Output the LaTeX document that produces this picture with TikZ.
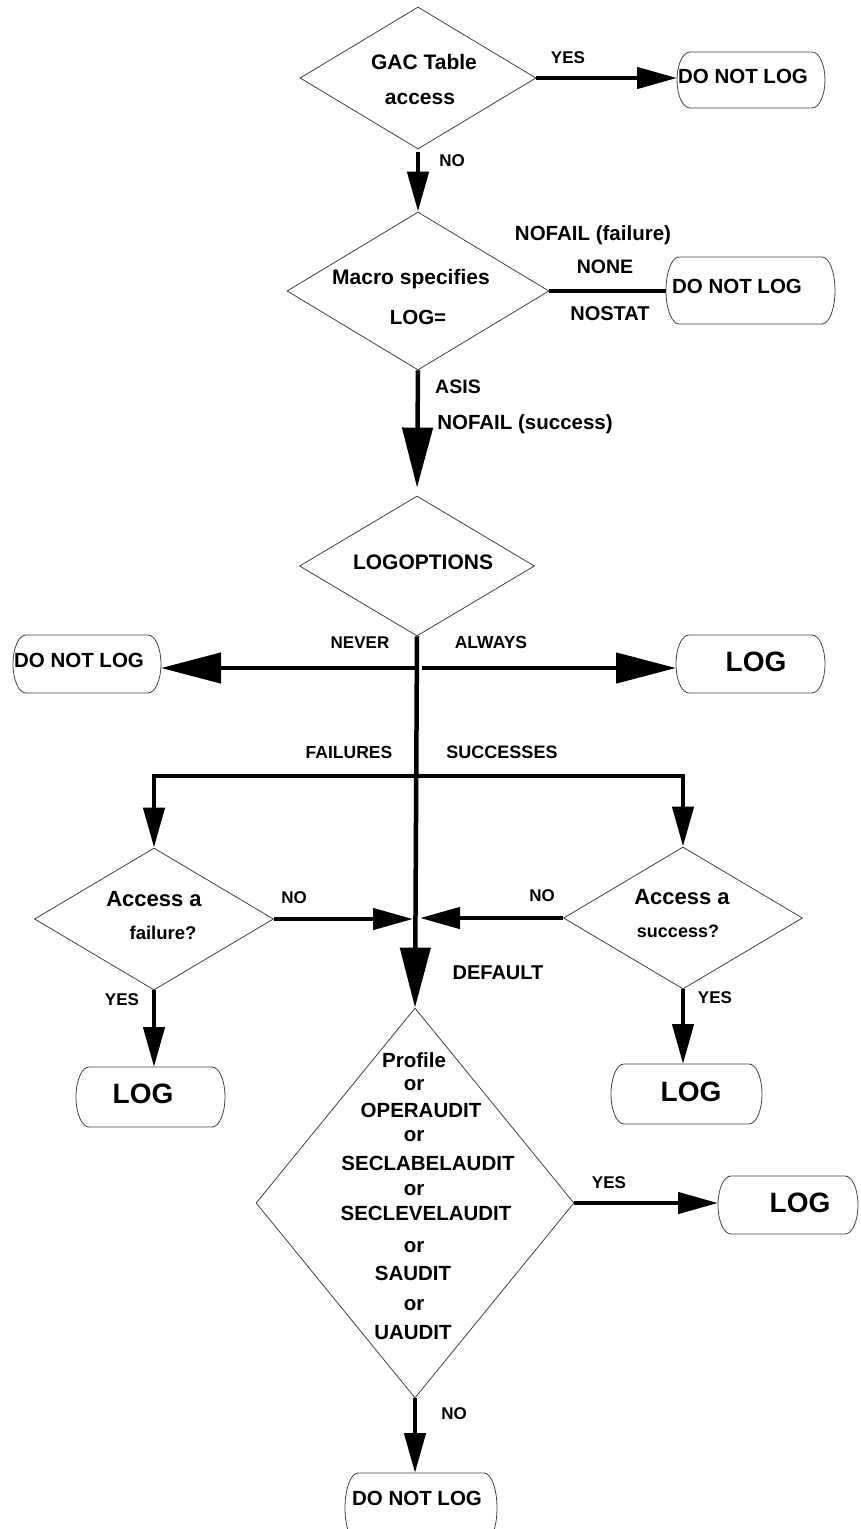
\documentclass[tikz,border=0pt]{standalone}
\usepackage{fontspec}
\setmainfont{Liberation Sans}
\usetikzlibrary{shapes.geometric,arrows.meta}
% terminal box: name, x, y, width, height; straight top and bottom, elliptic ends
\newcommand\termbox[5]{%
  \node[minimum width=#4pt, minimum height=#5pt, inner sep=0pt, outer sep=0pt] (#1) at (#2,#3) {};
  \draw[outline] ([xshift=13pt]#1.north west) -- ([xshift=-13pt]#1.north east)
     arc[start angle=90, end angle=-90, x radius=13pt, y radius=#5pt/2]
     -- ([xshift=13pt]#1.south west)
     arc[start angle=270, end angle=90, x radius=13pt, y radius=#5pt/2] -- cycle;}
\begin{document}
\begin{tikzpicture}[x=1pt,y=-1pt,
  txt/.style={font=\fontsize{#1}{#1}\selectfont\bfseries, anchor=base,
              yshift={-0.358*#1pt}, inner sep=0pt},
  outline/.style={draw=black!75, line width=0.8pt},
  decision/.style n args={2}{shape=diamond, outline,
              inner sep=0pt, minimum width=#1, minimum height=#2},
  flow/.style={line width=4.5pt},
  tipS/.style={-{Triangle[length=40pt,width=21pt]}},
  tipL/.style={-{Triangle[length=60pt,width=30pt]}}]
\useasboundingbox (0,0) rectangle (860,1529);

% decisions
\node[decision={236}{142}] (gac) at (418,78) {};
\node[decision={262}{158}] (macro) at (418,291) {};
\node[decision={235}{140}] (logopt) at (417,566) {};
\node[decision={239}{142}] (fail) at (154,919) {};
\node[decision={239}{142}] (succ) at (683,918) {};
\node[decision={318}{390}] (prof) at (415,1203) {};

% terminals
\termbox{nolog1}{751}{80}{148}{56}
\termbox{nolog2}{750.5}{290.5}{169}{67}
\termbox{nolog3}{87}{664}{148}{58}
\termbox{log1}{750.5}{664}{149}{58}
\termbox{log2}{150.5}{1097}{149}{60}
\termbox{log3}{686.5}{1094}{151}{60}
\termbox{log4}{788}{1205}{140}{58}
\termbox{nolog4}{421}{1508}{152}{70}

% terminal texts
\node[txt=20.5] (nolog1t) at (743,76) {DO NOT LOG};
\node[txt=20.5] (nolog2t) at (737,286) {DO NOT LOG};
\node[txt=20.5] (nolog3t) at (79,660) {DO NOT LOG};
\node[txt=28] (log1t) at (756,661) {LOG};
\node[txt=28] (log2t) at (143,1093) {LOG};
\node[txt=28] (log3t) at (691,1091) {LOG};
\node[txt=28] (log4t) at (800,1202) {LOG};
\node[txt=20.5] (nolog4t) at (417,1498) {DO NOT LOG};

% decision texts
\node[txt=21] (gac1) at (424,62) {GAC Table};
\node[txt=21] (gac2) at (420,97) {access};
\node[txt=21] (macro1) at (411,277) {Macro specifies};
\node[txt=20.5] (macro2) at (418,317) {LOG=};
\node[txt=21] (logopt1) at (423,562) {LOGOPTIONS};
\node[txt=22] (fail1) at (154,899) {Access a};
\node[txt=18.5] (fail2) at (163,933) {failure?};
\node[txt=22] (succ1) at (682,897) {Access a};
\node[txt=18] (succ2) at (678,931) {success?};
\foreach \t/\y/\x [count=\i] in {Profile/1060/414, or/1083/414, OPERAUDIT/1110/421,
    or/1134/414, SECLABELAUDIT/1163/428, or/1188/414, SECLEVELAUDIT/1213/426,
    or/1245/414, SAUDIT/1273/413, or/1303/414, UAUDIT/1332/413}
  \node[txt=20.5] (prof\i) at (\x,\y) {\t};

% branch labels
\node[txt=17] (gacyes) at (568,57) {YES};
\node[txt=17] (gacno) at (452,160) {NO};
\node[txt=20.5] (mfail) at (593,233) {NOFAIL (failure)};
\node[txt=19.5] (mnone) at (605,267) {NONE};
\node[txt=20] (mnostat) at (610,313) {NOSTAT};
\node[txt=19.5] (masis) at (458,387) {ASIS};
\node[txt=20.5] (msucc) at (525,422) {NOFAIL (success)};
\node[txt=17] (lnever) at (360,642) {NEVER};
\node[txt=17.5] (lalways) at (491,642) {ALWAYS};
\node[txt=17.5] (lfailures) at (349,752) {FAILURES};
\node[txt=18] (lsuccesses) at (502,752) {SUCCESSES};
\node[txt=17] (failno) at (294,897) {NO};
\node[txt=17] (succno) at (542,895) {NO};
\node[txt=20] (ldefault) at (498,972) {DEFAULT};
\node[txt=17] (failyes) at (122,999) {YES};
\node[txt=17] (succyes) at (715,997) {YES};
\node[txt=17] (profyes) at (609,1182) {YES};
\node[txt=17] (profno) at (454,1413) {NO};

% junction points on the main vertical line
\coordinate (hub) at (416,668);
\coordinate (hubR) at (422,668);
\coordinate (split) at (416,776);
\coordinate (mergeL) at (413,921);
\coordinate (mergeR) at (420,921);

% connectors
\draw[flow,tipS] (gac.east) -- (gac.east -| nolog1.west);
\draw[flow,tipS,shorten <=3pt] (gac.south) -- (macro.north);
\draw[flow] (macro.east) -- (macro.east -| nolog2.west);
\draw[flow,tipL,shorten >=8pt] (macro.south) -- (logopt.north);
\draw[flow,tipL] (logopt.south) -- (prof.north);
\draw[flow,tipL] (hub) -- (hub -| nolog3.east);
\draw[flow,tipL] (hubR) -- (hub -| log1.west);
\draw[flow,tipS] (split) -| (fail.north);
\draw[flow,tipS] (split) -| (succ.north);
\draw[flow,tipS] (fail.east) -- (fail.east -| mergeL);
\draw[flow,tipS] (succ.west) -- (succ.west -| mergeR);
\draw[flow,tipS] (fail.south) -- (fail.south |- log2.north);
\draw[flow,tipS] (succ.south) -- (succ.south |- log3.north);
\draw[flow,tipS] (prof.east) -- (prof.east -| log4.west);
\draw[flow,tipS] (prof.south) -- (prof.south |- nolog4.north);
\end{tikzpicture}
\end{document}
